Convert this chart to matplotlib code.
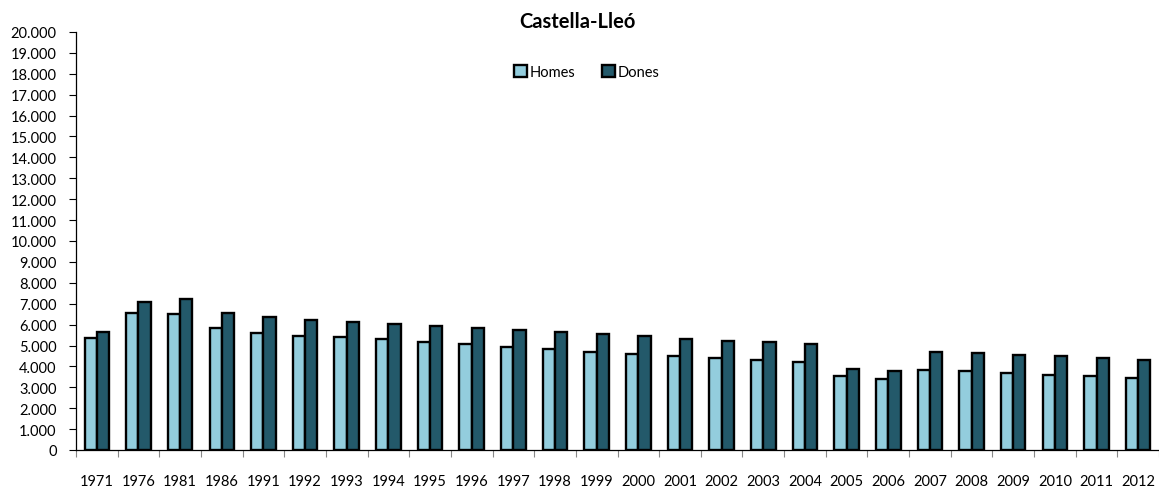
import matplotlib
matplotlib.use("Agg")
import matplotlib.pyplot as plt
import numpy as np
from matplotlib.ticker import FuncFormatter, MultipleLocator

years = ["1971", "1976", "1981", "1986", "1991", "1992", "1993", "1994", "1995", "1996",
         "1997", "1998", "1999", "2000", "2001", "2002", "2003", "2004", "2005", "2006",
         "2007", "2008", "2009", "2010", "2011", "2012"]
homes = [5340, 6550, 6490, 5840, 5580, 5450, 5390, 5300, 5180, 5060,
         4930, 4820, 4690, 4590, 4480, 4390, 4290, 4210, 3530, 3400,
         3830, 3770, 3670, 3590, 3540, 3460]
dones = [5660, 7070, 7220, 6550, 6350, 6220, 6120, 6040, 5930, 5850,
         5730, 5650, 5550, 5440, 5310, 5220, 5150, 5070, 3880, 3780,
         4700, 4620, 4530, 4480, 4400, 4290]

plt.rcParams['font.family'] = ['Lato', 'DejaVu Sans']

fig = plt.figure(figsize=(11.59, 4.89), dpi=100)
ax = fig.add_axes([76/1159, 1-451/489, 1-76/1159, (451-33)/489])

x = np.arange(len(years))
w = 0.295
ax.bar(x - w/2, homes, width=w, color="#93CDDD", edgecolor="black", linewidth=1.7, label="Homes", zorder=3)
ax.bar(x + w/2, dones, width=w, color="#23596A", edgecolor="black", linewidth=1.7, label="Dones", zorder=3)

ax.set_xlim(-0.5, len(years) - 0.5)
ax.set_ylim(0, 20000)
ax.yaxis.set_major_locator(MultipleLocator(1000))
ax.yaxis.set_major_formatter(FuncFormatter(lambda v, p: f"{int(v):,}".replace(",", ".")))

ax.set_xticks(x)
ax.set_xticklabels(years)
ax.set_xticks(np.arange(-0.5, len(years), 1.0), minor=True)
ax.tick_params(axis='x', which='major', length=0, pad=17, labelsize=10.5)
ax.tick_params(axis='x', which='minor', length=5, width=0.8, color="#888888")
ax.tick_params(axis='y', which='major', length=5, width=0.8, pad=9, labelsize=10.5)

for s in ["top", "right"]:
    ax.spines[s].set_visible(False)
ax.spines["left"].set_linewidth(0.9)
ax.spines["bottom"].set_linewidth(0.9)

fig.text(577/1159, 1-22/489, "Castella-Lleó", ha="center", va="center", fontsize=14.5, fontweight="bold")

leg = ax.legend(loc="center", bbox_to_anchor=(587/1159, 1-73/489), bbox_transform=fig.transFigure,
                ncol=2, frameon=False, fontsize=10.5, handlelength=0.9, handleheight=0.9,
                handletextpad=0.2, columnspacing=1.8)

fig.savefig("out.png", dpi=100)
